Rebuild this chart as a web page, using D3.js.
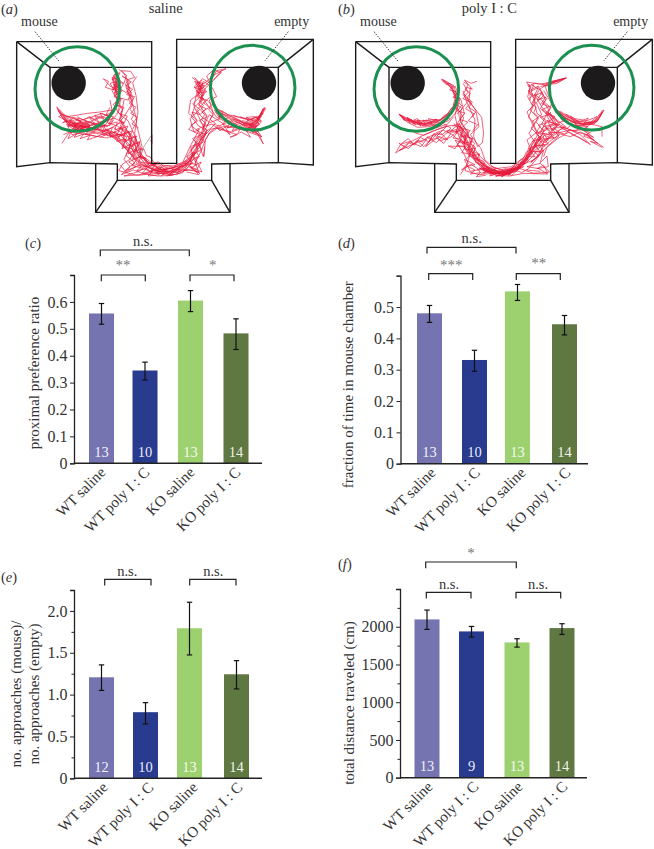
<!DOCTYPE html>
<html><head><meta charset="utf-8">
<script src="https://cdn.jsdelivr.net/npm/d3@7"></script>
<style>html,body{margin:0;background:#fff}svg{display:block}text{font-family:"Liberation Serif",serif;fill:#333}</style>
</head><body><svg id="c" width="654" height="849"></svg>
<script>
const groups=["WT saline","WT poly I : C","KO saline","KO poly I : C"];
const groupColors=["#7674b0","#283b8f","#9dd06e","#5f7741"];
const ratioMean=[0.557,0.345,0.605,0.483], ratioLow=[0.517,0.31,0.564,0.423], ratioHigh=[0.594,0.376,0.642,0.537], ratioN=[13,10,13,14];
const timeMean=[0.48,0.331,0.55,0.445], timeLow=[0.451,0.295,0.521,0.411], timeHigh=[0.505,0.362,0.572,0.473], timeN=[13,10,13,14];
const apprMean=[1.207,0.79,1.793,1.243], apprLow=[1.05,0.65,1.474,1.068], apprHigh=[1.355,0.904,2.104,1.406], apprN=[12,10,13,14];
const distMean=[2097,1938,1792,1982], distLow=[1965,1863,1730,1898], distHigh=[2221,2004,1841,2040], distN=[13,9,13,14];

// trajectories, in reference units (3 per pixel, per half-page panel)
const tracksSaline=[
"170,320 178,338 192,352 210,372 232,380 256,372 282,360 310,350 332,338 345,318 352,290 346,262 340,238 350,222",
"172,326 190,358 214,384 240,392 268,396 300,402 332,408 360,428 382,452 402,474 424,494 452,506 486,516 520,514 552,498 574,476 590,446 604,414 612,384 596,350 582,318 590,280 600,252 584,232",
"186,430 204,402 226,388 250,378 276,384 304,392 330,386 354,372 372,350 392,318 400,296 388,268 380,240 404,232 392,214 362,212",
"180,340 206,352 240,362 272,352 306,340 330,352 316,376 288,388 256,394 226,382 200,372 216,404 248,398 290,410 324,396",
"200,350 228,346 262,340 300,336 336,330 322,358 290,372 252,380 222,368 240,386 276,376 310,366 342,354 366,366 356,392 380,412 368,440 396,446 410,470",
"330,300 338,340 322,368 352,378 376,400 404,430 414,460 438,484 470,500 510,520 548,512 580,510 600,520 572,504 590,494 566,488",
"356,208 380,226 372,250 348,246 336,272 352,300 368,330 358,358 376,386 396,416 386,448 372,478 390,500 364,524 400,510 430,520 472,528 520,526",
"195,362 225,372 250,370 235,384 215,378 245,378 270,388 255,366 232,368 218,388 260,392 290,396 316,402 345,412 372,440 398,468 412,492 444,500",
"312,238 330,258 350,268 360,240 336,232 348,276 362,296 340,312 356,340 384,362 402,402 414,432 424,462 446,490 480,508 512,506 540,496 570,470",
"352,250 344,280 358,262 340,254 366,272 350,292 384,300 394,276 378,262 396,306 410,360 404,400 416,450 432,478 462,496",
"300,412 336,396 360,404 390,436 378,466 404,488 376,512 420,496 446,514 494,522 530,524 560,508 596,516 586,488 604,452 616,420 628,400",
"372,300 362,356 382,392 410,420 392,444 422,474 440,498 474,516 500,506 536,500 562,494 578,464 572,440 596,430 610,470 614,440",
"410,230 398,248 408,286 414,336 408,372 416,398 426,440 416,468 440,476",
"210,396 260,404 320,414 350,402 386,410 404,452 390,478 368,492 356,512 410,526 452,522 510,516",
"456,404 456,430 452,420",
"600,258 618,246 640,226 678,206 650,212 636,236 612,262 590,272 606,300 584,320 574,350 596,378 620,390 610,420 586,446 572,470 552,492",
"576,232 598,248 612,282 596,312 620,346 610,380 636,372 660,392 690,372 650,352 624,316 604,290 618,262 636,246 666,210",
"640,300 650,326 684,344 720,352 752,358 772,362 790,325 780,350 760,372 724,378 690,366 664,350 642,330",
"795,322 784,348 768,372 744,378 716,370 688,356 660,340 700,352 736,370 770,380 748,390 712,384 670,380 632,388 612,408 600,440 578,470",
"790,432 778,404 756,396 776,394 752,378 784,362 764,350 738,352 776,370 760,384 730,384 694,396 652,384 624,404",
"620,380 640,340 628,300 650,290 636,262 610,244 596,282 572,300 566,340 590,360 566,388 600,404 580,440 560,470 578,490 540,500 508,522 470,520",
"612,470 616,420 630,396 656,376 690,404 668,370 628,344 612,376 598,416 572,456 590,484 606,516 566,500 548,518 500,528",
"640,240 664,218 640,210 620,228 630,250 608,236 584,258 598,292 578,312 600,328 570,356 582,396 598,388 572,436 548,488",
"596,270 610,250 590,246 616,276 600,296 620,300 590,330 606,352 628,366 612,394 584,420 594,452 570,480",
"420,486 470,494 520,498 560,482 530,510 490,500 450,514 430,498 470,510 510,506 550,490 574,492",
"360,494 378,516 408,500 386,486 416,472 396,496 430,506 412,516 372,528 420,524 460,516",
"340,360 330,376 296,380 268,366 240,356 214,352 188,344 206,370 232,390 262,388 298,376 322,378",
"700,372 730,390 762,402 786,410 752,386 716,368 680,348 650,330 660,356 630,368",
"320,390 346,398 330,412 362,402 350,424 378,418 366,446 392,432 384,462 408,446 398,478 424,468 414,492",
"290,384 316,374 306,398 338,382 328,404 358,390 346,414 376,398 368,426 396,414 388,440 414,428 404,456",
"352,372 372,366 360,388 384,378 372,402 398,392 384,418 410,408 398,434 420,424 408,452 430,446 418,474",
"346,220 336,240 356,232 346,256 362,248 340,268 358,276 342,290 364,296 350,316 372,322 360,342 382,348 372,370",
"368,214 382,238 366,228 394,246 376,258 398,268 380,284 404,290 388,310 408,322 392,340 412,352 396,372 416,384",
"308,236 326,244 316,262 342,270 330,250 352,244 340,226 360,218 352,236 370,250 362,268 382,280",
"430,470 452,486 438,500 466,494 452,512 484,502 470,518 500,508 488,524 520,510 508,526 540,506 530,520 560,498 550,514 578,488",
"400,490 424,500 410,512 440,506 426,520 458,514 444,528 478,524 462,512 496,516 482,530",
"560,472 580,456 570,486 592,470 584,496 604,486 590,508 570,498 596,524 560,516",
"570,452 592,430 578,416 602,404 590,388 614,378 598,362 622,350 606,336 628,322 610,308 630,292",
"582,262 604,270 590,290 612,296 596,316 618,326 600,344 576,336 592,364 572,376 598,396 618,404 598,420",
"606,240 588,262 614,256 594,278 620,276 602,250 584,244 610,288",
"646,322 668,338 656,352 682,356 668,372 694,364 682,384 710,374 696,392 724,382 714,398",
"720,350 746,360 732,372 758,368 746,382 772,376 760,390 784,366 770,352 790,340",
"700,346 730,356 760,362 776,352 786,336 770,372 750,384 724,366 698,356 744,374 768,386",
"650,384 680,394 712,404 690,412 724,396 752,412 736,388 770,398 790,432",
"172,322 186,344 176,350 200,362 188,368 214,360 204,380 232,370 222,392 250,384 238,398 268,390 256,404 286,398",
"218,352 244,368 230,358 258,372 242,386 270,378 254,362 284,372 268,352 296,366 284,346 312,358 300,340 328,348",
"190,404 214,394 204,416 232,400 222,412 252,402 240,416 270,406 262,420 296,408",
"330,322 318,344 340,350 326,372 352,366 344,390 370,380 362,408 388,396",
"300,388 312,396 322,388 336,400 346,394 356,410 368,404 376,424 388,420 394,440 406,436 410,458 420,456 424,476 436,474 444,492 456,488 468,502 482,498 496,510 510,504 524,510 538,500 550,500 560,488 572,484 576,468",
"310,404 324,398 338,410 350,404 362,420 372,416 382,436 392,434 400,456 412,452 418,474 430,472 438,488 450,498 464,492 478,510 492,506 508,516 522,506 540,510 556,496 568,496 580,476 586,456",
"340,382 354,392 362,384 376,398 386,394 394,412 404,410 408,430 418,428 422,448 432,448 440,468 450,470 462,488 476,486 490,498 506,498 520,502 534,492 546,492",
"440,506 452,516 466,508 480,520 494,512 506,524 520,514 534,520 548,508 562,512",
"190,352 202,368 214,362 226,378 238,368 250,382 262,372 274,386 286,376 298,390 310,380 322,392",
"182,346 196,362 208,376 220,370 232,386 244,378 256,390 268,380 280,394 294,386 306,398 318,388 332,400",
"210,356 224,364 236,358 248,372 260,364 272,376 284,368 296,378 308,370 320,380 332,372",
"232,350 250,360 268,350 284,358 300,348 316,354 330,346 322,362 304,364 286,372 268,366",
"340,240 350,252 342,266 354,276 346,288 358,298 350,312 362,322 354,336 366,348 358,360 372,372",
"384,240 376,254 390,262 380,276 394,288 386,300 398,314 390,328 402,342 394,358 406,372 398,388",
"344,214 354,228 346,244 360,256 352,270",
"590,250 602,262 594,276 606,288 598,302 610,316 602,330 614,344 604,358 618,372 608,386 620,400 606,414 596,428 586,442",
"610,380 622,392 612,404 600,412 612,424 596,436 606,448 590,458 598,470 580,476 590,490",
"792,326 782,342 774,356 764,366 752,372 740,368 728,374 716,366 704,370 692,360 680,362 668,350 656,350 646,336",
"786,340 770,362 778,374 760,380 746,384 760,366 742,362 770,350 752,358 782,348",
"640,372 656,378 672,372 686,382 702,376 718,386 734,380 750,390 766,388 782,404",
"620,300 634,314 626,330 640,344 630,358 646,370 634,384 620,392"
];
const coreSaline=[
{w:2.6,d:"178,332 205,360 240,378 280,386 322,396 358,420 392,458 424,490 470,510 520,514 558,492 582,460"},
{w:5,d:"212,372 238,377 262,378"},
{w:1.8,d:"346,232 350,262 344,286"},
{w:1.8,d:"386,244 384,272 396,302"},
{w:1.8,d:"592,248 604,272 606,296"},
{w:2,d:"582,462 600,426 618,396"},
{w:2.8,d:"794,326 776,356 756,374 728,364"},
{w:1.4,d:"722,362 690,348 664,332"},
{w:1.4,d:"330,370 352,340 362,300"},
{w:1.8,d:"362,384 384,396 404,432"}
];
const tracksPoly=[
"342,237 362,246 382,262 390,290 384,316 368,340 340,360 310,368 280,370 250,362 216,342 240,366 272,382 306,380 340,372 364,362 388,336 398,300",
"215,342 236,358 262,372 296,376 330,366 356,348 378,320 386,288 372,262 350,240 376,268 392,310 384,346 392,384 414,420 432,452 456,484 486,506 522,520 560,510 590,490 616,456 636,420 652,390",
"205,460 222,432 250,424 232,444 216,452 264,430 300,416 282,440 250,426 296,402 336,386 372,376 402,380 422,424 446,468 470,498 510,516 548,516 582,498",
"262,398 290,406 322,392 360,378 330,408 362,420 340,398 300,412 328,428 358,400 388,388 400,420 384,446 364,438 410,440 428,470",
"400,524 416,500 444,494 412,478 430,514 472,506 506,526 548,528 590,520 662,522 636,506 600,500 640,490 668,516 620,520 574,504 528,522",
"450,244 432,250 412,240 436,268 420,262 408,284 440,322 464,352 470,400 466,428 452,440 440,410 444,360 420,308 408,272",
"430,262 426,300 402,330 400,366 420,392 432,432 458,468 490,498 530,512 566,500 596,474 606,440 624,414",
"378,268 402,300 412,340 390,372 414,396 442,430 428,466 414,512 456,524 500,520 545,524",
"388,320 410,354 396,390 370,412 340,422 320,402 348,390 376,404 404,428 428,460 478,500 522,518 564,506",
"412,282 446,330 456,380 430,404 462,446 474,480 504,506 554,500 588,474",
"240,360 270,370 300,372 330,358 296,362 262,362 290,378 322,374 354,366 326,384 362,372 380,350",
"720,233 692,240 666,248 640,252 612,248 598,246 610,260 602,290 618,320 604,352 624,370 606,400 626,430 610,456 592,480 562,510 524,522",
"830,330 820,350 806,368 776,376 742,368 708,350 684,322 664,286 654,258 676,250 712,236",
"826,334 812,362 788,374 756,372 724,360 692,336 706,362 740,376 782,380 760,390 720,392 690,400 660,418 636,444 616,470 596,490 566,510",
"830,442 804,424 776,404 744,394 712,384 680,372 650,380 632,404 612,440 598,470 580,496 546,516",
"825,410 825,380 790,372 770,392 800,412 760,396 730,410 700,402 668,424 646,444 630,470 610,490",
"612,254 640,270 656,300 640,326 668,350 690,380 664,404 640,400 658,362 630,340 620,300 636,270 660,252 688,244",
"604,270 626,294 610,330 634,356 612,384 640,412 622,442 604,468 584,494 620,480 650,450 692,416 726,396 754,412 780,428",
"650,272 674,310 664,340 698,372 670,394 644,372 666,330 644,300 622,282 646,324 680,352 716,380 684,398 650,424 640,462 612,486",
"690,330 720,350 750,362 790,368 810,350 780,362 744,356 716,342 740,362 768,372 800,372 814,360",
"662,520 650,496 630,506 664,500 660,468 640,488 650,450 628,478 600,510 640,514",
"592,480 612,450 600,420 630,396 616,364 644,344 628,308 650,286 634,258 612,270 626,310 600,336 620,380 636,410 618,446 600,476 570,500 540,516",
"470,518 500,510 530,524 560,516 590,500 560,506 520,512 488,520 456,504 480,514 516,528 552,520",
"440,476 468,502 494,518 530,516 570,502 604,474 596,486 560,514 506,520 468,508 436,474 420,452 404,420 420,440 444,480",
"396,396 372,392 396,372 418,404 408,430 384,420 410,460 424,490 404,510 432,492 460,512",
"700,380 736,404 764,416 790,434 760,404 726,388 694,372 668,380 696,408 660,440 650,470",
"376,378 398,370 386,396 410,388 398,412 424,404 410,430 436,424 422,450 446,444 434,468 458,462 446,484",
"350,372 372,384 360,396 392,396 378,414 404,418 390,436 416,440 404,458 430,462 418,478",
"384,300 404,316 392,332 414,340 398,358 422,366 404,384 430,392 412,408 438,416 424,436",
"360,248 380,256 368,270 392,276 378,292 400,296 386,312 406,326 390,342",
"408,250 424,276 408,296 432,306 416,326 442,342 424,362 452,374 436,394",
"450,480 472,492 460,506 486,506 470,520 500,514 488,528 520,518 506,530 540,518 524,530 560,512 544,526 580,500 566,516 596,488",
"420,498 444,510 430,522 460,518 448,530 476,526",
"596,480 616,462 606,446 630,440 616,424 642,416 626,400 650,392 634,376 658,368 640,352 664,344 646,328 668,320 650,304",
"600,470 624,470 612,454 640,456 624,436 654,438 636,420 664,420 648,400 676,404 658,386 686,388",
"612,486 636,468 622,456 650,452 636,436 664,432 650,416 682,414 664,398 698,398 680,384 712,382",
"640,280 660,296 646,312 672,322 656,340 684,350 664,366 694,372 676,386",
"604,260 622,250 612,274 634,262 622,288 646,276 630,300 656,292 640,314",
"624,250 650,254 672,244 694,240 716,234 690,250 664,254 640,260",
"820,340 800,366 770,370 784,354 756,366 730,348 748,372 718,356 700,340 728,372 760,378",
"720,366 700,352 684,332 712,362 694,368 670,340 690,376 660,360 676,392",
"760,388 790,398 770,408 800,420 780,404 812,430 790,424 826,442",
"218,344 232,362 226,350 250,370 240,352 266,374 252,358 282,378 270,360 298,376 288,360 316,372 304,356 332,362",
"224,430 244,416 262,436 280,412 306,426 320,402 296,440 330,414 350,430 372,400",
"208,458 232,440 216,430 244,446 270,422 290,440 312,420 340,410",
"396,380 408,392 402,406 416,414 412,430 426,436 424,452 438,458 438,474 452,478 454,492 468,498 472,510 488,510 494,520 510,516 520,526 534,516 548,520 558,506 572,506 580,490 594,486",
"380,370 392,384 388,398 404,406 400,422 414,428 412,446 428,450 428,468 444,474 446,488 462,492 466,504 482,504 490,514 506,510 518,518 532,510 546,512 558,500 568,498 578,482 590,474 598,456 610,450 616,430",
"410,380 424,396 420,410 434,416 430,432 444,440 442,456 456,462 456,478 470,484 476,498 492,504 506,504 522,510 536,506 552,508 566,492 578,494 592,470 604,462 612,442 624,436 630,416 642,408",
"450,508 464,520 480,512 494,526 510,518 524,530 540,520 554,526 570,512 584,518 600,508",
"470,500 486,514 502,508 516,520 532,514 546,522 560,508",
"222,348 236,362 248,356 260,372 274,364 288,376 302,368 316,376 330,366 344,370 356,356 368,356",
"240,352 256,362 270,356 284,366 298,360 312,366 326,358 340,360 352,346 364,340 372,326 384,318",
"346,242 358,254 368,250 378,266 384,258 392,276 382,288 392,302 380,314 388,330",
"230,440 244,428 258,434 272,420 286,426 300,412 316,416 330,402 346,404 360,392 376,390",
"640,420 652,406 664,410 676,396 690,398 702,386 716,388 730,378",
"628,440 644,422 656,428 670,410 684,414 698,398 712,402 728,390 742,394 758,386",
"612,460 628,448 640,430 650,414 646,398 660,388 654,372 668,362 660,348 672,336",
"610,282 622,296 614,312 628,322 620,338 634,350 626,366 640,378 630,394 644,406 632,422",
"806,362 792,372 778,368 764,374 750,366 736,368 722,356 708,354 696,340 684,336",
"826,336 816,354 800,366 786,366 772,376 758,378 744,372",
"666,252 682,244 696,246 712,236 694,240 676,248 660,258 646,254",
"600,254 612,262 604,276 616,286 606,298",
"410,246 424,254 414,268 430,280 420,294 436,306 426,322 446,336 434,352"
];
const corePoly=[
{w:2,d:"346,240 374,262 388,298 376,334 338,362 292,372 252,362 220,346"},
{w:2.8,d:"396,382 420,430 450,476 490,508 530,520 570,506 600,478"},
{w:3.5,d:"470,508 500,516 530,520 560,512"},
{w:2,d:"600,478 622,440 642,412"},
{w:2.4,d:"828,332 808,362 772,372 732,358 700,336"},
{w:1.3,d:"664,252 716,235"},
{w:1.2,d:"606,252 610,300"},
{w:1.6,d:"650,390 680,370 664,340"},
{w:1.3,d:"420,400 400,360 392,330"}
];

const svg=d3.select("#c");
const SERIF='"Liberation Serif",serif';

// ---------- arena panels ----------
const arenaY=d3.scaleLinear().domain([0,660]).range([0,220]);
const walls=[
[[50,125],[455,125],[455,490],[530,490],[530,118],[940,118],[940,495],[835,488],[635,492],[635,541],[352,541],[352,492],[150,488],[50,500],[50,125]],
[[50,125],[150,202],[150,488]],[[150,202],[455,202]],[[530,202],[835,202],[835,488]],[[835,202],[940,118]],
[[287,492],[287,637],[690,637],[690,490]],[[287,637],[352,541]],[[690,637],[635,541]]];
const rings=[[232,267],[758,263]], blobs=[[206,249],[777,249]];
const parse=s=>s.split(" ").map(p=>p.split(",").map(Number));
function arena(cfg){
  const x=d3.scaleLinear().domain([0,981]).range([cfg.left,cfg.left+327]);
  const ln=d3.line().x(d=>x(d[0]+cfg.dx)).y(d=>arenaY(d[1]));
  const raw=d3.line().x(d=>x(d[0])).y(d=>arenaY(d[1]));
  const g=svg.append("g");
  g.selectAll("path.c").data(cfg.core).join("path").attr("class","c")
    .attr("d",d=>raw(parse(d.d))).attr("fill","none").attr("stroke","#e8324f").attr("stroke-linecap","round").attr("stroke-linejoin","round").attr("stroke-width",d=>d.w).attr("stroke-opacity",.5);
  g.selectAll("path.t").data(cfg.tracks.map(parse)).join("path").attr("class","t")
    .attr("d",raw).attr("fill","none").attr("stroke","#e6183c").attr("stroke-width",0.75).attr("stroke-opacity",.9);
  if(cfg.grey) g.append("path").attr("d",raw(cfg.grey)).attr("fill","none").attr("stroke","#999").attr("stroke-width",.8);
  g.selectAll("path.w").data(walls).join("path").attr("class","w").attr("d",ln).attr("fill","none").attr("stroke","#1a1a1a").attr("stroke-width",1.4);
  g.selectAll("circle.b").data(blobs).join("circle").attr("class","b").attr("cx",d=>x(d[0]+cfg.dx)).attr("cy",d=>arenaY(d[1])).attr("r",17.2).attr("fill","#1d1a1b");
  g.selectAll("circle.r").data(rings).join("circle").attr("class","r").attr("cx",d=>x(d[0]+cfg.dx)).attr("cy",d=>arenaY(d[1])).attr("r",42.3).attr("fill","none").attr("stroke","#1c9050").attr("stroke-width",3);
  const dots=[[[105,95],[178,185]],[[865,95],[795,182]]];
  g.selectAll("path.d").data(dots).join("path").attr("class","d").attr("d",ln).attr("stroke","#333").attr("stroke-width",1).attr("stroke-dasharray","1.4 1.4").attr("fill","none");
  g.append("text").attr("x",x(118+cfg.dx)).attr("y",26).attr("text-anchor","middle").attr("font-size",14).text("mouse");
  g.append("text").attr("x",x(875+cfg.dx)).attr("y",26).attr("text-anchor","middle").attr("font-size",14).text("empty");
  g.append("text").attr("x",x(cfg.titleX)).attr("y",13).attr("text-anchor","middle").attr("font-size",14.5).text(cfg.title);
  panelLabel(cfg.letter,cfg.labelX,14);
}
function panelLabel(l,px,py){
  const t=svg.append("text").attr("x",px).attr("y",py).attr("font-size",14.5);
  t.append("tspan").text("(");t.append("tspan").attr("font-style","italic").text(l);t.append("tspan").text(")");
}
arena({left:0,dx:0,tracks:tracksSaline,core:coreSaline,title:"saline",titleX:497,letter:"a",labelX:1,grey:[[415,465],[455,405]]});
arena({left:327,dx:36,tracks:tracksPoly,core:corePoly,title:"poly I : C",titleX:487,letter:"b",labelX:338});

// ---------- bar panels ----------
function bars(c){
  const y=d3.scaleLinear().domain([0,c.top]).range([c.y0,c.yTop]);
  const x=d3.scaleOrdinal().domain(groups).range(c.centres);
  const g=svg.append("g");
  const w=25;
  g.selectAll("rect").data(groups).join("rect").attr("x",d=>x(d)-w/2).attr("width",w)
    .attr("y",(d,i)=>y(c.mean[i])).attr("height",(d,i)=>c.y0-y(c.mean[i])).attr("fill",(d,i)=>groupColors[i]);
  const e=g.selectAll("g.e").data(groups).join("g").attr("class","e");
  e.append("line").attr("x1",d=>x(d)).attr("x2",d=>x(d)).attr("y1",(d,i)=>y(c.low[i])).attr("y2",(d,i)=>y(c.high[i]));
  e.append("line").attr("x1",d=>x(d)-2.7).attr("x2",d=>x(d)+2.7).attr("y1",(d,i)=>y(c.low[i])).attr("y2",(d,i)=>y(c.low[i]));
  e.append("line").attr("x1",d=>x(d)-2.7).attr("x2",d=>x(d)+2.7).attr("y1",(d,i)=>y(c.high[i])).attr("y2",(d,i)=>y(c.high[i]));
  e.selectAll("line").attr("stroke","#111").attr("stroke-width",1.2);
  g.selectAll("text.n").data(groups).join("text").attr("class","n").attr("x",d=>x(d)).attr("y",c.y0-6.5)
    .attr("text-anchor","middle").attr("font-size",14.5).style("fill","#fff").attr("fill-opacity",.92).text((d,i)=>c.n[i]);
  // y axis
  const ya=d3.axisLeft(y).tickValues(c.ticks).tickSizeOuter(0).tickSize(4).tickPadding(2.5).tickFormat(v=>c.labels.includes(v)?c.fmt(v):"");
  const yg=g.append("g").attr("transform",`translate(${c.axisX},0)`).call(ya);
  yg.selectAll("text").attr("font-size",16).attr("font-family",SERIF).style("fill","#333");
  yg.selectAll(".tick line").attr("stroke","#222").attr("stroke-width",1).attr("x2",v=>c.labels.includes(v)||v===c.top?-4:-2.5);
  yg.select(".domain").attr("stroke","#222").attr("stroke-width",1.3);
  // x axis
  const xa=d3.axisBottom(x).tickSize(0).tickSizeOuter(0).tickPadding(0);
  const xg=g.append("g").attr("transform",`translate(0,${c.y0})`).call(xa);
  xg.select(".domain").remove();
  xg.selectAll("text").attr("font-size",15.2).attr("font-family",SERIF).style("fill","#333")
    .attr("text-anchor","end").attr("dy",0).attr("x",0).attr("y",0)
    .attr("transform",(d,i)=>`translate(${c.lab[i]-c.centres[i]},10) rotate(-45)`);
  g.append("line").attr("x1",c.axisX).attr("x2",c.xEnd).attr("y1",c.y0).attr("y2",c.y0).attr("stroke","#222").attr("stroke-width",1.5);
  // y title
  c.title.forEach(t=>g.append("text").attr("transform",`translate(${t.x},${t.y}) rotate(-90)`).attr("text-anchor","middle").attr("font-size",t.fs||15).text(t.s));
  // brackets
  c.brackets.forEach(b=>{
    g.append("path").attr("d",`M${b.x1},${b.y+6.3}V${b.y}H${b.x2}V${b.y+6.3}`).attr("fill","none").attr("stroke","#222").attr("stroke-width",1.2);
    const st=b.s.includes("*");
    g.append("text").attr("x",b.tx).attr("y",b.ty).attr("text-anchor","middle").attr("font-size",st?15:14.5).style("fill",st?"#777":"#333").text(b.s);
  });
  panelLabel(c.letter,c.lx,c.ly);
}
const f1=d3.format(".1f"), f0=v=>v===0?"0":f1(v);
bars({letter:"c",lx:25,ly:248,top:0.7,y0:463.3,yTop:275,axisX:74,xEnd:262,centres:[101.5,145,190.5,236],lab:[106,150,195,241],
 mean:ratioMean,low:ratioLow,high:ratioHigh,n:ratioN,ticks:[0,.1,.2,.3,.4,.5,.6,.7],labels:[0,.1,.2,.3,.4,.5,.6],fmt:f0,
 title:[{s:"proximal preference ratio",x:38.5,y:373}],
 brackets:[{x1:100.3,x2:189.3,y:250,s:"n.s.",tx:143,ty:246},{x1:101.3,x2:145.3,y:275,s:"**",tx:123,ty:270},{x1:190,x2:234,y:275,s:"*",tx:212.7,ty:270}]});
bars({letter:"d",lx:338,ly:248,top:0.6,y0:463.7,yTop:275.7,axisX:400.5,xEnd:588,centres:[429.5,474.5,517.5,564.5],lab:[436,480.5,526,571],
 mean:timeMean,low:timeLow,high:timeHigh,n:timeN,ticks:[0,.1,.2,.3,.4,.5,.6],labels:[0,.1,.2,.3,.4,.5],fmt:f0,
 title:[{s:"fraction of time in mouse chamber",x:353,y:384.7}],
 brackets:[{x1:427,x2:516,y:247.3,s:"n.s.",tx:471.7,ty:243},{x1:428.7,x2:472.7,y:273.7,s:"***",tx:451.3,ty:270},{x1:516.3,x2:560.3,y:273.7,s:"**",tx:538.7,ty:268}]});
bars({letter:"e",lx:1,ly:582,top:2.25,y0:778.3,yTop:590,axisX:74,xEnd:262,centres:[101.5,145.5,189.5,236.5],lab:[108,154,198,243],
 mean:apprMean,low:apprLow,high:apprHigh,n:apprN,ticks:[0,.25,.5,.75,1,1.25,1.5,1.75,2,2.25],labels:[0,.5,1,1.5,2],fmt:f0,
 title:[{s:"no. approaches (mouse)/",x:21,y:694},{s:"no. approaches (empty)",x:39,y:694}],
 brackets:[{x1:104.7,x2:151,y:579.3,s:"n.s.",tx:127.3,ty:575.5},{x1:189.7,x2:236,y:579.3,s:"n.s.",tx:213.3,ty:575.5}]});
bars({letter:"f",lx:338,ly:569,top:2500,y0:777.7,yTop:589,axisX:400,xEnd:587,centres:[427,471.5,517,562],lab:[433,479,523,568],
 mean:distMean,low:distLow,high:distHigh,n:distN,ticks:d3.range(0,2501,250),labels:[0,500,1000,1500,2000],fmt:String,
 title:[{s:"total distance traveled (cm)",x:354,y:703}],
 brackets:[{x1:425.7,x2:516.3,y:562,s:"*",tx:471,ty:558},{x1:426.3,x2:471,y:592.3,s:"n.s.",tx:449,ty:589},{x1:516,x2:560.7,y:592.3,s:"n.s.",tx:538,ty:589}]});
</script></body></html>
